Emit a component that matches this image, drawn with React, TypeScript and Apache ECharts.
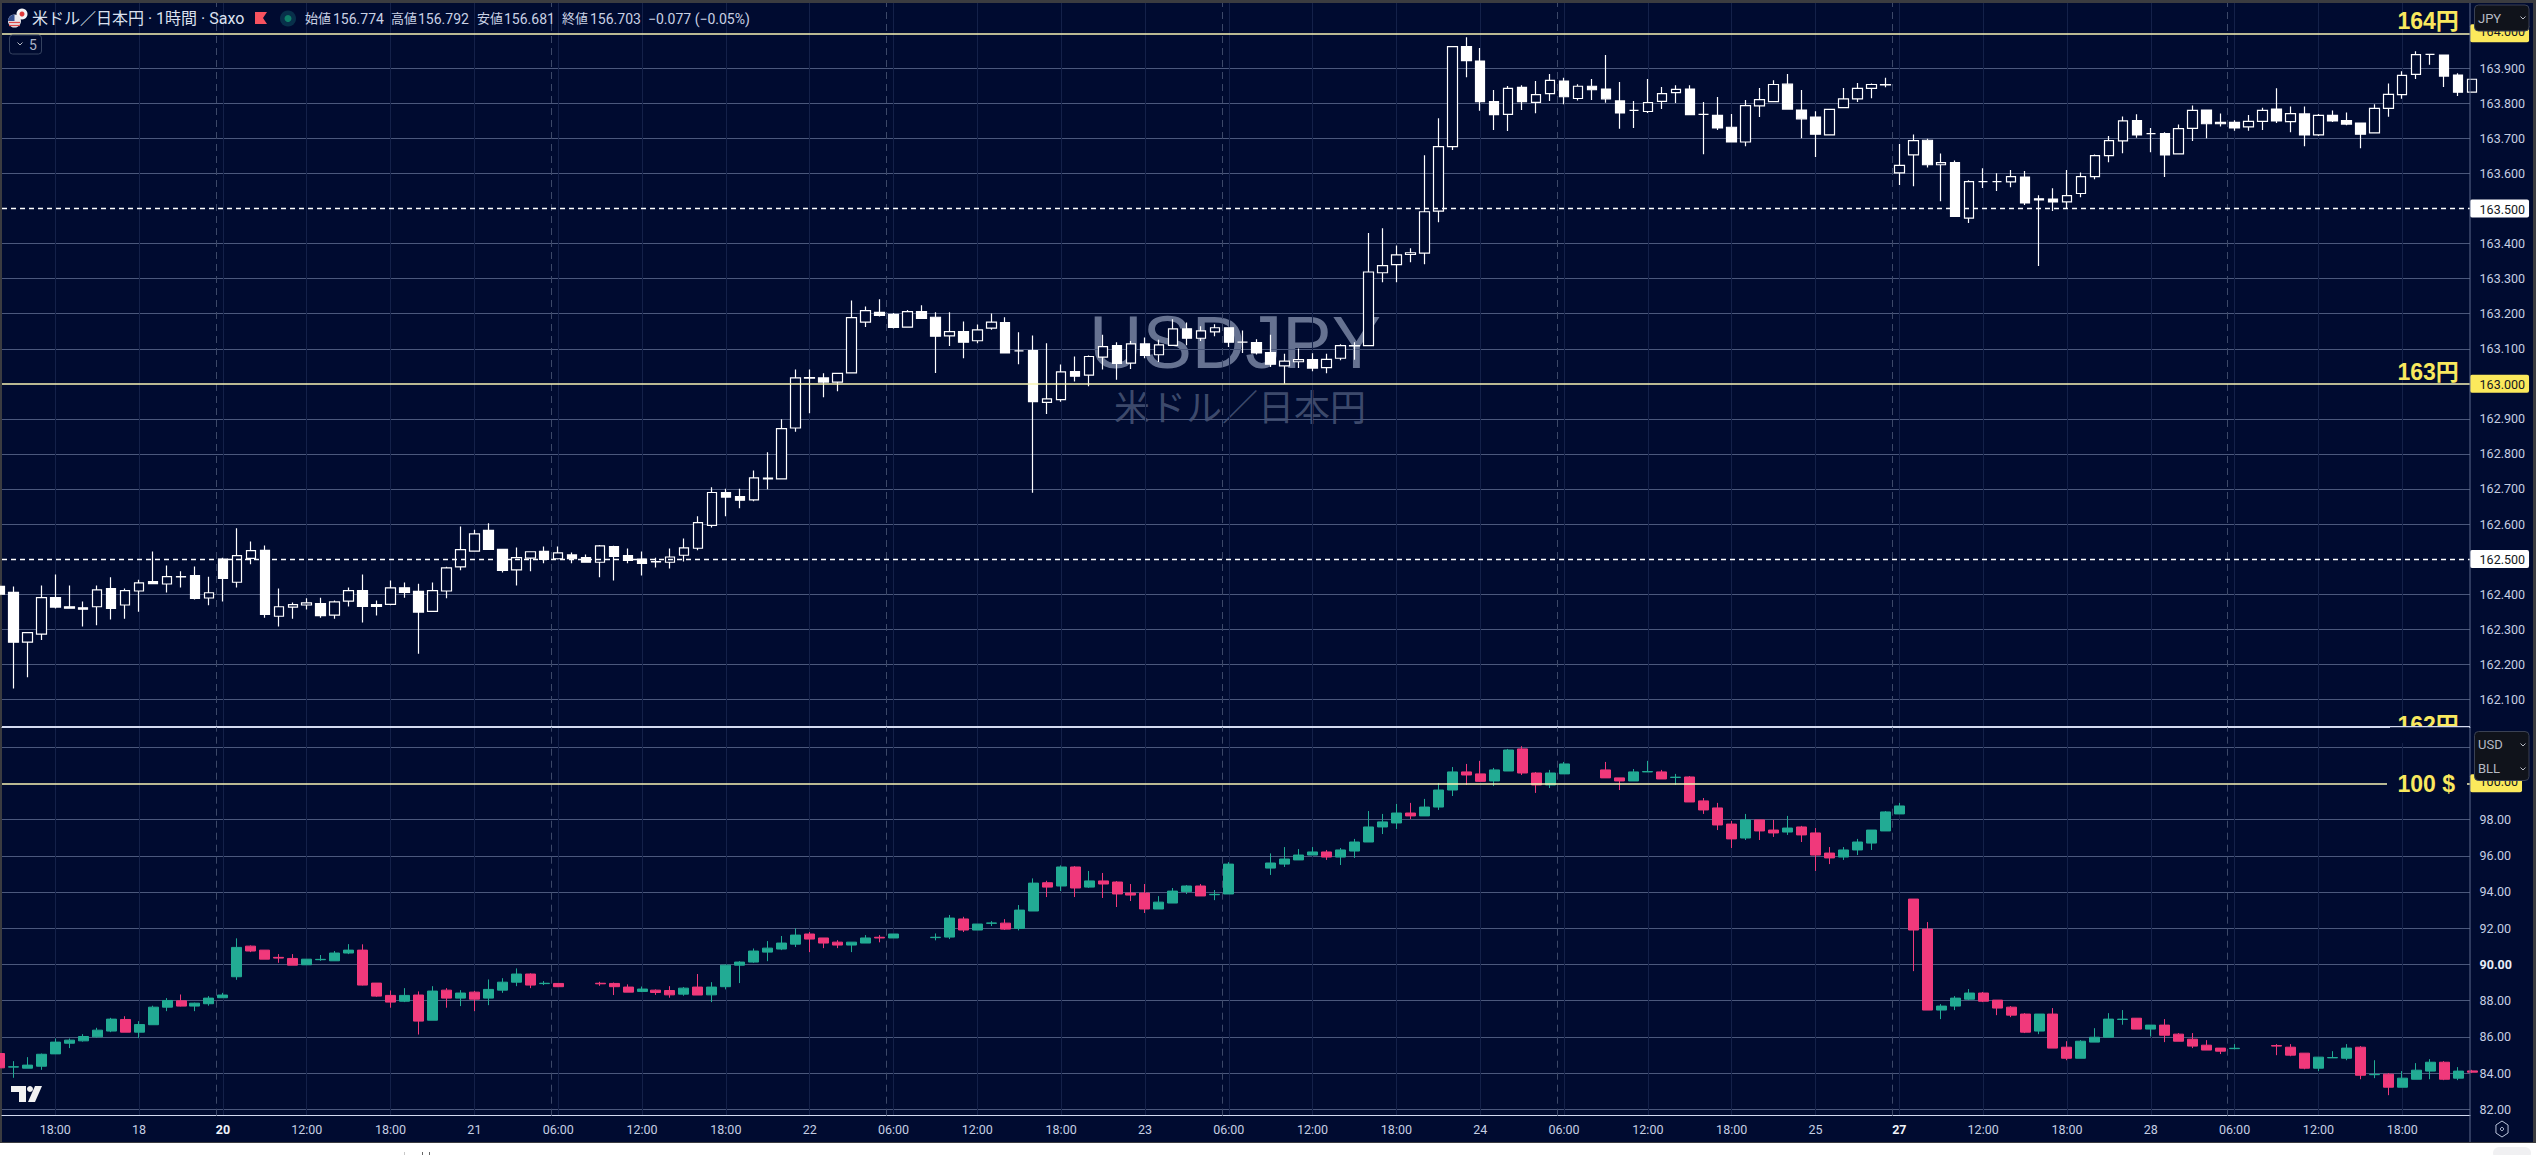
import React, { useEffect, useRef } from "react";
import * as echarts from "echarts";

// ---------- data: [open, close, low, high], one row per hourly bar ----------
const usdJpyBars: number[][] = [
[162.422,162.400,162.394,162.428],[162.405,162.263,162.131,162.422],[162.263,162.290,162.163,162.292],[162.286,162.390,162.269,162.425],
[162.390,162.363,162.359,162.456],[162.364,162.360,162.359,162.425],[162.361,162.357,162.308,162.379],[162.364,162.412,162.311,162.425],
[162.416,162.359,162.328,162.448],[162.369,162.410,162.330,162.416],[162.409,162.432,162.350,162.441],[162.436,162.430,162.430,162.522],
[162.429,162.450,162.405,162.482],[162.449,162.450,162.419,162.465],[162.453,162.388,162.385,162.479],[162.389,162.404,162.368,162.450],
[162.500,162.445,162.379,162.504],[162.434,162.510,162.419,162.588],[162.502,162.524,162.485,162.550],[162.525,162.342,162.333,162.539],
[162.337,162.364,162.308,162.416],[162.363,162.370,162.330,162.376],[162.369,162.375,162.356,162.388],[162.373,162.339,162.333,162.390],
[162.340,162.378,162.330,162.382],[162.380,162.410,162.365,162.419],[162.410,162.365,162.319,162.456],[162.370,162.365,162.339,162.382],
[162.371,162.418,162.368,162.439],[162.418,162.405,162.390,162.433],[162.408,162.349,162.230,162.430],[162.351,162.410,162.349,162.433],
[162.409,162.475,162.388,162.478],[162.478,162.527,162.468,162.593],[162.523,162.572,162.523,162.584],[162.582,162.528,162.528,162.602],
[162.528,162.468,162.462,162.528],[162.469,162.504,162.425,162.533],[162.503,162.521,162.465,162.522],[162.522,162.499,162.488,162.536],
[162.501,162.518,162.499,162.536],[162.512,162.501,162.488,162.519],[162.504,162.491,162.491,162.513],[162.491,162.538,162.448,162.540],
[162.536,162.508,162.439,162.538],[162.510,162.496,162.488,162.530],[162.500,162.488,162.453,162.522],[162.492,162.493,162.476,162.504],
[162.491,162.506,162.473,162.530],[162.511,162.532,162.493,162.559],[162.531,162.604,162.525,162.622],[162.596,162.690,162.590,162.705],
[162.690,162.677,162.622,162.701],[162.678,162.668,162.645,162.701],[162.669,162.732,162.665,162.753],[162.729,162.731,162.699,162.805],
[162.729,162.872,162.729,162.899],[162.874,163.017,162.863,163.041],[163.016,163.018,162.916,163.041],[163.017,163.005,162.962,163.030],
[163.005,163.030,162.979,163.030],[163.031,163.189,163.031,163.238],[163.176,163.209,163.162,163.221],[163.204,163.195,163.192,163.241],
[163.198,163.161,163.158,163.202],[163.162,163.206,163.162,163.211],[163.206,163.187,163.187,163.224],[163.190,163.136,163.031,163.204],
[163.137,163.149,163.108,163.204],[163.149,163.119,163.073,163.178],[163.123,163.154,163.116,163.169],[163.159,163.176,163.154,163.201],
[163.175,163.088,163.088,163.190],[163.094,163.094,163.056,163.147],[163.095,162.949,162.689,163.138],[162.947,162.957,162.914,163.116],
[162.955,163.034,162.949,163.055],[163.035,163.022,163.007,163.078],[163.025,163.078,162.993,163.081],[163.076,163.106,163.041,163.140],
[163.109,163.058,163.012,163.119],[163.059,163.114,163.042,163.122],[163.114,163.081,163.073,163.132],[163.083,163.111,163.062,163.126],
[163.110,163.157,163.108,163.184],[163.157,163.130,163.110,163.175],[163.130,163.151,163.122,163.164],[163.148,163.160,163.136,163.170],
[163.160,163.119,163.105,163.161],[163.119,163.119,163.088,163.152],[163.118,163.088,163.084,163.127],[163.089,163.056,163.048,163.140],
[163.051,163.065,163.000,163.086],[163.063,163.069,163.045,163.101],[163.069,163.045,163.036,163.087],[163.046,163.070,163.030,163.086],
[163.073,163.109,163.067,163.113],[163.108,163.109,163.069,163.119],[163.109,163.319,163.109,163.430],[163.317,163.337,163.290,163.444],
[163.340,163.368,163.290,163.395],[163.369,163.374,163.347,163.387],[163.373,163.491,163.341,163.652],[163.493,163.677,163.461,163.758],
[163.677,163.962,163.667,163.964],[163.962,163.922,163.875,163.989],[163.921,163.805,163.779,163.958],[163.805,163.768,163.724,163.838],
[163.769,163.843,163.721,163.850],[163.846,163.805,163.781,163.852],[163.803,163.825,163.772,163.864],[163.828,163.866,163.807,163.884],
[163.864,163.819,163.798,163.873],[163.814,163.849,163.808,163.855],[163.849,163.839,163.810,163.870],[163.841,163.813,163.802,163.938],
[163.807,163.773,163.728,163.861],[163.780,163.780,163.730,163.807],[163.777,163.802,163.773,163.870],[163.806,163.828,163.784,163.847],
[163.831,163.840,163.801,163.852],[163.841,163.768,163.767,163.852],[163.769,163.769,163.655,163.804],[163.766,163.730,163.724,163.818],
[163.732,163.690,163.690,163.770],[163.690,163.794,163.678,163.810],[163.793,163.811,163.761,163.844],[163.805,163.854,163.805,163.866],
[163.855,163.784,163.784,163.884],[163.781,163.756,163.701,163.838],[163.761,163.712,163.647,163.778],[163.710,163.783,163.710,163.783],
[163.788,163.813,163.788,163.844],[163.813,163.843,163.804,163.858],[163.843,163.854,163.815,163.857],[163.853,163.854,163.846,163.873],
[163.602,163.623,163.567,163.684],[163.653,163.694,163.564,163.711],[163.695,163.625,163.617,163.699],[163.625,163.631,163.521,163.657],
[163.631,163.478,163.478,163.637],[163.473,163.577,163.459,163.581],[163.577,163.577,163.559,163.615],[163.577,163.577,163.550,163.601],
[163.576,163.591,163.561,163.610],[163.590,163.516,163.510,163.607],[163.528,163.525,163.336,163.538],[163.527,163.519,163.493,163.558],
[163.519,163.537,163.500,163.610],[163.543,163.591,163.532,163.603],[163.591,163.651,163.584,163.654],[163.651,163.694,163.632,163.707],
[163.693,163.750,163.658,163.763],[163.751,163.710,163.702,163.769],[163.714,163.714,163.661,163.730],[163.714,163.653,163.590,163.718],
[163.656,163.728,163.656,163.740],[163.729,163.780,163.693,163.794],[163.781,163.742,163.701,163.781],[163.746,163.742,163.734,163.771],
[163.746,163.730,163.722,163.752],[163.733,163.749,163.722,163.767],[163.749,163.780,163.724,163.788],[163.784,163.750,163.744,163.843],
[163.748,163.771,163.718,163.791],[163.770,163.710,163.678,163.791],[163.710,163.766,163.707,163.770],[163.766,163.750,163.747,163.780],
[163.751,163.741,163.738,163.774],[163.744,163.712,163.672,163.744],[163.716,163.786,163.716,163.798],[163.786,163.826,163.762,163.857],
[163.825,163.880,163.813,163.892],[163.883,163.939,163.870,163.949],[163.940,163.940,163.910,163.940],[163.938,163.878,163.847,163.938],
[163.881,163.832,163.821,163.886],[163.832,163.869,163.832,163.869],
];

const bllBars: (number[] | null)[] = [
[85.08,84.29,84.29,85.08],[84.33,84.35,83.74,84.66],[84.27,84.44,84.27,84.88],[84.38,85.04,84.18,85.08],
[85.06,85.71,85.06,85.91],[85.65,85.82,85.38,85.91],[85.78,86.02,85.74,86.15],[86.00,86.37,85.96,86.50],
[86.32,86.98,86.26,87.05],[86.96,86.26,86.26,87.14],[86.26,86.68,85.93,86.87],[86.67,87.64,86.67,87.72],
[87.64,88.01,87.42,88.14],[87.99,87.70,87.68,88.34],[87.70,87.86,87.42,87.89],[87.83,88.14,87.72,88.25],
[88.16,88.31,88.16,88.43],[89.32,90.94,89.15,91.44],[91.01,90.74,90.68,91.05],[90.79,90.29,90.29,90.79],
[90.39,90.35,90.09,90.57],[90.33,89.96,89.96,90.57],[89.98,90.29,89.98,90.29],[90.26,90.28,90.20,90.52],
[90.20,90.63,90.20,90.74],[90.63,90.79,90.57,91.12],[90.79,88.86,88.84,91.11],[88.97,88.25,88.21,88.97],
[88.29,87.92,87.61,88.56],[87.97,88.29,87.92,88.69],[88.31,86.87,86.13,88.51],[86.92,88.53,86.92,88.80],
[88.58,88.14,87.61,88.69],[88.14,88.42,87.70,88.58],[88.47,88.08,87.42,88.54],[88.14,88.62,87.75,89.17],
[88.58,89.02,88.43,89.24],[89.02,89.47,88.80,89.78],[89.47,88.86,88.69,89.51],[88.94,88.96,88.86,89.08],
[88.95,88.77,88.75,88.95],null,null,[88.96,88.93,88.82,89.04],
[88.95,88.77,88.31,89.00],[88.75,88.47,88.47,88.90],[88.51,88.64,88.47,88.78],[88.58,88.45,88.32,88.62],
[88.56,88.32,88.16,88.80],[88.36,88.69,88.27,88.75],[88.75,88.31,88.31,89.47],[88.32,88.75,87.92,89.02],
[88.77,89.96,88.62,90.00],[89.96,90.13,88.97,90.18],[90.13,90.74,90.09,90.88],[90.68,90.90,90.18,91.29],
[90.85,91.18,90.79,91.57],[91.12,91.62,90.96,91.99],[91.68,91.40,90.68,91.79],[91.46,91.18,90.90,91.46],
[91.23,91.07,90.90,91.34],[91.07,91.23,90.68,91.23],[91.18,91.46,91.18,91.62],[91.50,91.46,91.22,91.62],
[91.46,91.68,91.46,91.68],null,null,[91.48,91.50,91.33,91.71],
[91.51,92.56,91.40,92.73],[92.51,91.90,91.79,92.63],[91.90,92.23,91.90,92.23],[92.27,92.29,92.12,92.39],
[92.28,91.95,91.90,92.50],[91.99,93.00,91.88,93.28],[92.95,94.49,92.95,94.75],[94.51,94.27,93.72,94.62],
[94.33,95.38,94.05,95.47],[95.38,94.22,93.72,95.43],[94.27,94.61,94.22,95.16],[94.61,94.44,93.67,95.05],
[94.55,93.89,93.17,94.60],[93.94,93.83,93.50,94.44],[93.94,93.06,92.84,94.44],[93.06,93.44,93.06,93.77],
[93.39,94.05,93.39,94.22],[94.02,94.33,93.89,94.38],[94.33,93.78,93.78,94.44],[93.85,93.87,93.55,94.11],
[93.89,95.54,93.89,95.65],null,null,[95.32,95.60,94.94,96.13],
[95.54,95.82,95.38,96.48],[95.77,96.04,95.77,96.37],[96.04,96.21,96.04,96.48],[96.21,95.93,95.77,96.32],
[95.93,96.32,95.49,96.43],[96.26,96.76,95.88,96.93],[96.76,97.59,96.76,98.47],[97.59,97.87,97.20,98.31],
[97.81,98.36,97.48,98.86],[98.36,98.20,98.03,98.92],[98.20,98.69,98.20,99.14],[98.69,99.63,98.53,100.02],
[99.63,100.63,99.30,100.90],[100.63,100.46,99.91,101.07],[100.52,100.11,100.08,101.24],[100.13,100.74,99.85,100.85],
[100.68,101.84,100.68,101.90],[101.90,100.57,100.46,102.05],[100.57,99.91,99.47,100.62],[99.91,100.57,99.74,100.74],
[100.52,101.07,100.52,101.18],null,null,[100.74,100.30,100.30,101.18],
[100.30,100.13,99.63,100.30],[100.13,100.63,100.13,100.79],[100.63,100.65,100.62,101.24],[100.63,100.24,100.24,100.74],
[100.32,100.34,99.91,100.52],[100.35,98.97,98.97,100.40],[99.03,98.53,98.31,99.19],[98.64,97.70,97.42,98.92],
[97.75,96.93,96.43,97.92],[96.98,97.98,96.87,98.31],[97.98,97.37,96.87,97.98],[97.42,97.26,97.04,97.98],
[97.31,97.53,97.15,98.20],[97.59,97.15,96.76,97.65],[97.26,96.04,95.16,97.53],[96.15,95.88,95.54,96.48],
[95.93,96.32,95.77,96.48],[96.32,96.76,96.04,96.93],[96.70,97.42,96.32,97.42],[97.37,98.42,97.37,98.47],
[98.31,98.75,98.31,98.92],[93.61,91.90,89.63,93.61],[91.95,87.48,87.48,92.34],[87.48,87.70,86.98,87.81],
[87.70,88.14,87.48,88.25],[88.08,88.42,88.03,88.64],[88.42,87.97,87.92,88.48],[88.03,87.59,87.20,88.03],
[87.64,87.20,87.09,87.70],[87.26,86.26,86.21,87.31],[86.32,87.26,86.15,87.26],[87.26,85.38,85.38,87.59],
[85.43,84.82,84.71,85.76],[84.82,85.76,84.82,85.82],[85.71,85.98,85.71,86.48],[85.98,86.98,85.98,87.31],
[86.96,86.98,86.67,87.48],[87.03,86.43,86.43,87.03],[86.43,86.65,86.02,86.65],[86.65,86.09,85.71,86.98],
[86.15,85.76,85.76,86.21],[85.87,85.49,85.38,86.21],[85.54,85.27,85.27,85.82],[85.38,85.21,85.05,85.38],
[85.35,85.37,85.31,85.60],null,null,[85.52,85.49,84.99,85.60],
[85.43,84.99,84.93,85.60],[85.10,84.27,84.21,85.10],[84.27,84.88,84.11,84.88],[84.84,84.86,84.84,85.21],
[84.82,85.38,84.71,85.60],[85.43,83.88,83.66,85.49],[83.91,83.93,83.72,84.71],[83.94,83.22,82.78,84.00],
[83.22,83.72,83.22,84.11],[83.66,84.16,83.66,84.55],[84.11,84.60,83.66,84.77],[84.60,83.66,83.61,84.66],
[83.72,84.11,83.61,84.33],[84.12,84.05,84.00,84.18],
];

// ---------- axes ----------
const timeLabels: [number, string][] = [
[4,"18:00"],[10,"18"],[16,"20"],[22,"12:00"],[28,"18:00"],[34,"21"],[40,"06:00"],[46,"12:00"],[52,"18:00"],[58,"22"],
[64,"06:00"],[70,"12:00"],[76,"18:00"],[82,"23"],[88,"06:00"],[94,"12:00"],[100,"18:00"],[106,"24"],[112,"06:00"],
[118,"12:00"],[124,"18:00"],[130,"25"],[136,"27"],[142,"12:00"],[148,"18:00"],[154,"28"],[160,"06:00"],[166,"12:00"],[172,"18:00"],
];
const boldTimes = ["20", "27"];
const sessionBreaks = [15.5, 39.5, 63.5, 87.5, 111.5, 135.5, 159.5];
const jpyLabels = [162.1,162.2,162.3,162.4,162.5,162.6,162.7,162.8,162.9,163.0,163.1,163.2,163.3,163.4,163.5,163.6,163.7,163.8,163.9,164.0];
const jpyGrid = [162.1,162.2,162.3,162.4,162.6,162.7,162.8,162.9,163.1,163.2,163.3,163.4,163.6,163.7,163.8,163.9];
const jpyDashed = [162.5, 163.5];
const jpyYellow = [163, 164];
const bllLabels = [82,84,86,88,90,92,94,96,98,100];
const bllGrid = [82,84,86,88,90,92,94,96,98,102];
const bllYellow = [100];
const headerParts: [number, string, number][] = [
[305,"始値",13],[333,"156.774",14],[391,"高値",13],[418,"156.792",14],[477,"安値",13],[504,"156.681",14],
[562,"終値",13],[590,"156.703",14],[648,"−0.077 (−0.05%)",14],
];

const NAVY = "#000b30";
const UI_FONT = "Roboto, 'Noto Sans CJK JP', sans-serif";
const AXIS_TEXT = "#c6cfe3";
const GRID = "#4b587c";
const FAINT = "#142149";
const YELLOW = "#f9e85e";
const LINE_YELLOW = "#f7f5b4";
const LEFT = 2, RIGHT = 2470, XMIN = 0.186, XMAX = 176.85;

const toSeries = (rows: (number[] | null)[]) =>
  rows.flatMap((r, i) => (r ? [[i, r[0], r[1], r[2], r[3]]] : []));

const tagRich = {
  n: { color: AXIS_TEXT, fontSize: 12.5, fontFamily: "Roboto", padding: [0, 0, 0, 9.6] },
  b: { color: "#e8edf8", fontSize: 12.5, fontWeight: "bold", fontFamily: "Roboto", padding: [0, 0, 0, 9.6] },
  y: { color: "#131722", fontSize: 12.5, fontFamily: "Roboto", backgroundColor: "#fbe95c", borderRadius: 2, padding: [3, 4, 2, 9.6] },
  c: { color: "#131722", fontSize: 12.5, fontFamily: "Roboto", backgroundColor: "#fbe95c", borderRadius: 2, padding: [1, 4, 4, 9.6] },
  w: { color: "#131722", fontSize: 12.5, fontFamily: "Roboto", backgroundColor: "#ffffff", borderRadius: 2, padding: [3, 4, 2, 9.6] },
};

function xAxisOf(grid: number, showLabels: boolean) {
  const ticks = timeLabels.map((t) => t[0]);
  return {
    type: "value", gridIndex: grid, min: XMIN, max: XMAX, scale: true,
    axisLine: { show: true, onZero: false, lineStyle: { color: "#d3daf0", width: 1.2 } },
    axisTick: { show: false, customValues: ticks },
    splitLine: { show: true, lineStyle: { color: FAINT, width: 1 } },
    axisLabel: {
      show: showLabels, customValues: ticks, margin: 7, hideOverlap: false,
      showMinLabel: true, showMaxLabel: true,
      formatter: (v: number) => {
        const t = timeLabels.find((e) => e[0] === v);
        if (!t) return "";
        return boldTimes.includes(t[1]) ? `{b|${t[1]}}` : `{n|${t[1]}}`;
      },
      rich: {
        n: { color: AXIS_TEXT, fontSize: 12.5, fontFamily: "Roboto" },
        b: { color: "#f0f3fa", fontSize: 12.5, fontWeight: "bold", fontFamily: "Roboto" },
      },
    },
  };
}

function helperSeries(x: number, y: number, dashed: number[], yellow: number[]) {
  const common = { symbol: ["none", "none"], silent: true, label: { show: false }, animation: false };
  return [
    {
      type: "line", xAxisIndex: x, yAxisIndex: y, data: [], z: 1, silent: true,
      markLine: {
        ...common,
        data: sessionBreaks.map((v) => ({ xAxis: v })),
        lineStyle: { color: "#3c4868", type: [7, 5], width: 1 },
      },
    },
    {
      type: "line", xAxisIndex: x, yAxisIndex: y, data: [], z: 1, silent: true,
      markLine: {
        ...common,
        data: dashed.map((v) => ({ yAxis: v })),
        lineStyle: { color: "#ffffff", type: [5, 4], width: 1.4 },
      },
    },
    {
      type: "line", xAxisIndex: x, yAxisIndex: y, data: [], z: 1, silent: true,
      markLine: {
        ...common,
        data: yellow.map((v) => ({ yAxis: v })),
        lineStyle: { color: LINE_YELLOW, type: "solid", width: 1.5 },
      },
    },
  ];
}

function overlay() {
  const el: any[] = [];
  const txt = (x: number, y: number, text: string, font: string, fill: string, extra: any = {}, z = 100) =>
    el.push({ type: "text", z, style: { x, y, text, font, fill, textVerticalAlign: "middle", ...extra } });
  const chevron = (x: number, y: number) =>
    el.push({ type: "polyline", z: 103, shape: { points: [[x - 2.5, y - 1.5], [x, y + 1], [x + 2.5, y - 1.5]] }, style: { stroke: "#b8bcc6", lineWidth: 1, fill: "none" } });

  // right axis border
  el.push({ type: "line", z: 100, shape: { x1: RIGHT, y1: 3, x2: RIGHT, y2: 1142 }, style: { stroke: "#5d6a8c", lineWidth: 1 } });

  // hand-drawn price captions
  txt(2397.5, 21, "164円", `bold 23px 'Liberation Sans','Noto Sans CJK JP'`, YELLOW);
  txt(2397.5, 372, "163円", `bold 23px 'Liberation Sans','Noto Sans CJK JP'`, YELLOW);
  txt(2397.5, 725, "162円", `bold 23px 'Liberation Sans','Noto Sans CJK JP'`, YELLOW, {}, 100);
  el.push({ type: "rect", z: 101, shape: { x: 2390, y: 727, width: 79, height: 16 }, style: { fill: NAVY } });
  el.push({ type: "line", z: 102, shape: { x1: LEFT, y1: 726.7, x2: RIGHT, y2: 726.7 }, style: { stroke: "#d3daf0", lineWidth: 1.2 } });
  el.push({ type: "rect", z: 100, shape: { x: 2387, y: 778, width: 80, height: 10 }, style: { fill: NAVY } });
  txt(2397.5, 784, "100 $", `bold 23px 'Liberation Sans','Noto Sans CJK JP'`, YELLOW, {}, 101);

  // header
  txt(32, 18.7, "米ドル／日本円 · 1時間 · Saxo", `16px ${UI_FONT}`, "#dbe1ef");
  headerParts.forEach(([x, t, s]) => txt(x, 18.7, t, `${s}px ${UI_FONT}`, "#c9d1e4"));
  el.push({ type: "circle", z: 100, shape: { cx: 22, cy: 14, r: 5.5 }, style: { fill: "#f4f4f6" } });
  el.push({ type: "circle", z: 100, shape: { cx: 22, cy: 14, r: 2.5 }, style: { fill: "#e03a3a" } });
  el.push({ type: "circle", z: 101, shape: { cx: 14.5, cy: 21, r: 6.5 }, style: { fill: "#e8e8ee" } });
  el.push({ type: "sector", z: 101, shape: { cx: 14.5, cy: 21, r: 6.5, r0: 0, startAngle: Math.PI, endAngle: Math.PI * 1.5 }, style: { fill: "#35508f" } });
  [22.5, 25.5].forEach((y) =>
    el.push({ type: "line", z: 102, shape: { x1: 9, y1: y, x2: 20, y2: y }, style: { stroke: "#dd4a4a", lineWidth: 1.3 } }));
  el.push({ type: "polygon", z: 100, shape: { points: [[255, 12], [267, 12], [263, 18], [267, 24], [255, 24]] }, style: { fill: "#f7525f" } });
  el.push({ type: "circle", z: 100, shape: { cx: 288, cy: 18.5, r: 8 }, style: { fill: "#08304a" } });
  el.push({ type: "circle", z: 101, shape: { cx: 288, cy: 18.5, r: 3.5 }, style: { fill: "#0f7f68" } });

  // collapse button
  el.push({ type: "rect", z: 100, shape: { x: 9.5, y: 35, width: 32, height: 19, r: 3 }, style: { fill: NAVY, stroke: "#35425f", lineWidth: 1 } });
  chevron(20, 44);
  txt(29, 45, "5", `14px ${UI_FONT}`, "#aab3c8");

  // currency / unit boxes
  el.push({ type: "rect", z: 102, shape: { x: 2474.5, y: 5, width: 54.5, height: 26, r: 4 }, style: { fill: "#10131b", stroke: "#3a4154", lineWidth: 1 } });
  txt(2478, 18, "JPY", `13px ${UI_FONT}`, "#b5b9c4", {}, 103);
  chevron(2523, 18);
  el.push({ type: "rect", z: 102, shape: { x: 2474.5, y: 731.5, width: 54.5, height: 49, r: 4 }, style: { fill: "#10131b", stroke: "#3a4154", lineWidth: 1 } });
  txt(2478, 744, "USD", `13px ${UI_FONT}`, "#b5b9c4", {}, 103);
  chevron(2523, 745);
  txt(2478, 768, "BLL", `13px ${UI_FONT}`, "#b5b9c4", {}, 103);
  chevron(2523, 769);

  // logo
  el.push({ type: "polygon", z: 100, shape: { points: [[11, 1086], [26, 1086], [26, 1102], [19, 1102], [19, 1092], [11, 1092]] }, style: { fill: "#f2f2f2" } });
  el.push({ type: "circle", z: 100, shape: { cx: 30, cy: 1089, r: 3 }, style: { fill: "#f2f2f2" } });
  el.push({ type: "polygon", z: 100, shape: { points: [[35, 1086], [42, 1086], [35, 1102], [28, 1102]] }, style: { fill: "#f2f2f2" } });

  // settings icon
  const hex = [0, 1, 2, 3, 4, 5].map((k) => {
    const a = (k * Math.PI) / 3;
    return [2502 + 7 * Math.sin(a), 1129 + 8 * Math.cos(a)];
  });
  el.push({ type: "polygon", z: 100, shape: { points: hex }, style: { fill: "none", stroke: "#b9c3da", lineWidth: 1 } });
  el.push({ type: "circle", z: 100, shape: { cx: 2502, cy: 1129, r: 1.6 }, style: { fill: "none", stroke: "#b9c3da", lineWidth: 1 } });
  return el;
}

export default function App() {
  const ref = useRef<HTMLDivElement>(null);
  useEffect(() => {
    const chart = echarts.init(ref.current!, undefined, { renderer: "svg", width: 2540, height: 1155 });
    chart.setOption({
      animation: false,
      backgroundColor: "transparent",
      title: [
        { text: "USDJPY", left: 1230, top: 300, textAlign: "center", z: -1, textStyle: { color: "rgba(176,190,216,0.58)", fontSize: 74, fontWeight: "normal", fontFamily: "'Liberation Sans'" } },
        { text: "米ドル／日本円", left: 1235, top: 382, textAlign: "center", z: -1, textStyle: { color: "rgba(150,165,195,0.42)", fontSize: 36, fontWeight: "normal", fontFamily: "'Noto Sans CJK JP'" } },
      ],
      grid: [
        { left: LEFT, top: 3, width: RIGHT - LEFT, height: 724 },
        { left: LEFT, top: 727, width: RIGHT - LEFT, height: 388.7 },
      ],
      xAxis: [xAxisOf(0, false), xAxisOf(1, true)],
      yAxis: [
        {
          type: "value", gridIndex: 0, position: "right", min: 162.021, max: 164.0865, scale: true,
          axisLine: { show: false }, axisTick: { show: false, customValues: jpyGrid },
          splitLine: { show: true, lineStyle: { color: GRID, width: 1 } },
          axisLabel: {
            customValues: jpyLabels, margin: 0, hideOverlap: false, showMinLabel: true, showMaxLabel: true,
            formatter: (v: number) => {
              const s = v.toFixed(3);
              if (s === "164.000") return `{c|${s}}`;
              if (s === "163.000") return `{y|${s}}`;
              if (s === "163.500" || s === "162.500") return `{w|${s}}`;
              return `{n|${s}}`;
            },
            rich: tagRich,
          },
        },
        {
          type: "value", gridIndex: 1, position: "right", min: 81.647, max: 103.11, scale: true,
          axisLine: { show: false }, axisTick: { show: false, customValues: bllGrid },
          splitLine: { show: true, lineStyle: { color: GRID, width: 1 } },
          axisLabel: {
            customValues: bllLabels, margin: 0, hideOverlap: false, showMinLabel: true, showMaxLabel: true,
            formatter: (v: number) => {
              const s = v.toFixed(2);
              if (v === 100) return `{c|${s}}`;
              if (v === 90) return `{b|${s}}`;
              return `{n|${s}}`;
            },
            rich: tagRich,
          },
        },
      ],
      series: [
        ...helperSeries(0, 0, jpyDashed, jpyYellow),
        ...helperSeries(1, 1, [], bllYellow),
        {
          type: "candlestick", xAxisIndex: 0, yAxisIndex: 0, z: 3, barWidth: 10, silent: true,
          data: toSeries(usdJpyBars),
          encode: { x: 0, y: [1, 2, 3, 4] },
          itemStyle: { color: NAVY, color0: "#ffffff", borderColor: "#ffffff", borderColor0: "#ffffff", borderColorDoji: "#ffffff", borderWidth: 1.2 },
        },
        {
          type: "candlestick", xAxisIndex: 1, yAxisIndex: 1, z: 3, barWidth: 10.5, silent: true,
          data: toSeries(bllBars),
          encode: { x: 0, y: [1, 2, 3, 4] },
          itemStyle: { color: "#22ab94", color0: "#f0397b", borderColor: "#22ab94", borderColor0: "#f0397b", borderColorDoji: "#22ab94", borderWidth: 1 },
        },
      ],
      graphic: { elements: overlay() },
    });
    return () => chart.dispose();
  }, []);

  const box = (l: number, t: number, w: number, h: number, bg: string, extra: React.CSSProperties = {}) => (
    <div style={{ position: "absolute", left: l, top: t, width: w, height: h, background: bg, ...extra }} />
  );
  return (
    <div style={{ position: "fixed", left: 0, top: 0, width: 2540, height: 1155, background: "#ffffff", overflow: "hidden" }}>
      {box(0, 0, 2536, 1143, "#3b3c40")}
      {box(2, 3, 2531, 1139, NAVY)}
      {box(2493, 1147, 38, 12, "#f0f0f2", { borderRadius: 6 })}
      {box(404, 1152, 1, 3, "#c8c8c8")}
      {box(422, 1152, 1, 3, "#666666")}
      {box(429, 1152, 1, 3, "#666666")}
      <div ref={ref} style={{ position: "absolute", left: 0, top: 0, width: 2540, height: 1155 }} />
    </div>
  );
}
